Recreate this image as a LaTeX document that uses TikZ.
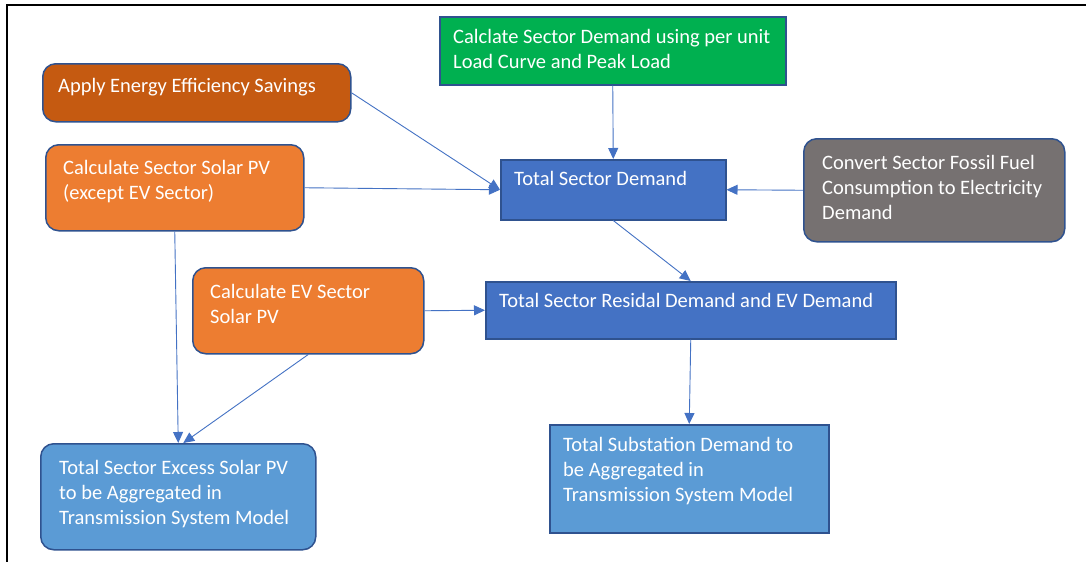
\documentclass[tikz,border=0pt]{standalone}
\usepackage{fontspec}
\setmainfont{Carlito}
\usetikzlibrary{arrows.meta,calc}

\definecolor{cDarkOrange}{HTML}{C55A11}
\definecolor{cOrange}{HTML}{ED7D31}
\definecolor{cGreen}{HTML}{00B050}
\definecolor{cBlue}{HTML}{4472C4}
\definecolor{cGrey}{HTML}{767171}
\definecolor{cLightBlue}{HTML}{5B9BD5}
\definecolor{cEdge}{HTML}{2F528F}

% fixed first-line height so every label hangs from the same point
\newcommand{\firststrut}{\rule{0pt}{20pt}}

\begin{document}
\begin{tikzpicture}[x=1pt,y=-1pt,
  box/.style={draw=cEdge, line width=1.5pt, inner sep=0pt, anchor=north west},
  rbox/.style={box, rounded corners=13pt},
  txt/.style={anchor=north west, inner sep=0pt, align=left, text=white,
              font=\fontsize{20.5}{25}\selectfont},
  arr/.style={draw=cBlue, line width=0.9pt,
              -{Triangle[length=11pt,width=10pt]}}]

\useasboundingbox (0,0) rectangle (1086,562);
\fill[white] (0,0) rectangle (1086,562);

% page frame
\draw[line width=1.6pt] (1086,4.7) -- (6.7,4.7) -- (6.7,562);

% boxes
\node[rbox, fill=cDarkOrange, minimum width=308pt, minimum height=58pt] (ee) at (42,63) {};
\node[rbox, fill=cOrange, minimum width=258pt, minimum height=86pt] (spv) at (45,144) {};
\node[box, fill=cGreen, minimum width=346pt, minimum height=68pt] (load) at (439,16) {};
\node[box, fill=cBlue, minimum width=225pt, minimum height=60pt] (tsd) at (500,159) {};
\node[rbox, fill=cGrey, minimum width=261pt, minimum height=103pt] (fossil) at (803,138) {};
\node[rbox, fill=cOrange, minimum width=231pt, minimum height=86pt] (evpv) at (192,267) {};
\node[box, fill=cBlue, minimum width=410pt, minimum height=57pt] (resid) at (485,281) {};
\node[box, fill=cLightBlue, minimum width=279pt, minimum height=108pt] (subst) at (549,424) {};
\node[rbox, fill=cLightBlue, minimum width=275pt, minimum height=106pt] (excess) at (40,443) {};

% labels
\node[txt] (tee) at (58,72) {\firststrut Apply Energy Efficiency Savings};
\node[txt] (tspv) at (63,154) {\firststrut Calculate Sector Solar PV\\(except EV Sector)};
\node[txt] (tload) at (453,23) {\firststrut Calclate Sector Demand using per unit\\Load Curve and Peak Load};
\node[txt] (ttsd) at (514,165) {\firststrut Total Sector Demand};
\node[txt] (tfossil) at (822,149) {\firststrut Convert Sector Fossil Fuel\\Consumption to Electricity\\Demand};
\node[txt] (tevpv) at (210,278) {\firststrut Calculate EV Sector\\Solar PV};
\node[txt] (tresid) at (499,287) {\firststrut Total Sector Residal Demand and EV Demand};
\node[txt] (tsubst) at (563,431) {\firststrut Total Substation Demand to\\be Aggregated in\\Transmission System Model};
\node[txt] (texcess) at (59,454) {\firststrut Total Sector Excess Solar PV\\to be Aggregated in\\Transmission System Model};

% connectors
\draw[arr] (ee.east) -- (tsd.west);
\draw[arr] (spv.east) -- (tsd.west);
\draw[arr] (load.south) -- (tsd.north);
\draw[arr] (fossil.west) -- (tsd.east);
\draw[arr] (tsd.south) -- (resid.north);
\draw[arr] (evpv.east) -- (resid.west);
\draw[arr] (resid.south) -- (subst.north);
\draw[arr] (spv.south) -- (excess.north);
\draw[arr] (evpv.south) -- ([xshift=5pt]excess.north);

\end{tikzpicture}
\end{document}
